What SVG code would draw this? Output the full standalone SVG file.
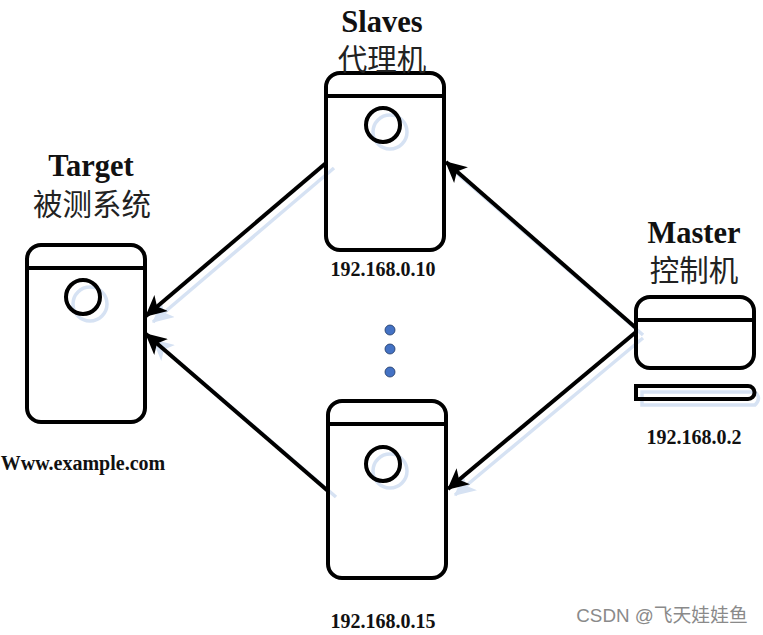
<svg xmlns="http://www.w3.org/2000/svg" width="763" height="635" viewBox="0 0 763 635">
<style>
.b{fill:none;stroke:#000;stroke-width:4}
.s{fill:none;stroke:#d6e2f3;stroke-width:3.5}
.c{fill:none;stroke:#000;stroke-width:4}
.t{font-family:"Liberation Serif","Noto Sans CJK SC",serif;font-weight:700;fill:#111;text-anchor:middle}
.h{font-size:30.5px}
.l{font-size:20px}
.z{font-family:"Noto Sans CJK SC","Liberation Serif",serif;font-size:29.5px;font-weight:400;fill:#222;text-anchor:middle}
.d{fill:#4472c4;stroke:#203864;stroke-width:.8}
</style>
<defs>
<marker id="a" viewBox="0 0 10 10" refX="9.5" refY="5" markerUnits="userSpaceOnUse" markerWidth="21" markerHeight="21" orient="auto"><path d="M0 0L10 5L0 10L2.6 5Z" fill="#000"/></marker>
<marker id="as" viewBox="0 0 10 10" refX="9.5" refY="5" markerUnits="userSpaceOnUse" markerWidth="21" markerHeight="21" orient="auto"><path d="M0 0L10 5L0 10L2.6 5Z" fill="#d6e2f3"/></marker>
</defs>
<rect width="763" height="635" fill="#fff"/>
<g id="shadows">
<line class="s" x1="334" y1="168" x2="153" y2="322" marker-end="url(#as)"/>
<line class="s" x1="643" y1="335" x2="453" y2="170"/>
<line class="s" x1="643" y1="338" x2="455" y2="495" marker-end="url(#as)"/>
<line class="s" x1="336" y1="497" x2="153" y2="340" marker-end="url(#as)"/>
<circle class="s" cx="390" cy="132" r="17"/>
<circle class="s" cx="90" cy="304" r="17"/>
<circle class="s" cx="390" cy="471" r="17"/>
<path class="s" d="M642 392H755Q762 398 755 405H642Z"/>
</g>
<g id="connectors">
<line class="c" x1="326" y1="163" x2="146" y2="316" marker-end="url(#a)"/>
<line class="c" x1="636" y1="328" x2="446" y2="162" marker-end="url(#a)"/>
<line class="c" x1="636" y1="332" x2="448" y2="489" marker-end="url(#a)"/>
<line class="c" x1="328" y1="491" x2="146" y2="334" marker-end="url(#a)"/>
</g>
<g id="target">
<rect class="b" x="27" y="245" width="118" height="177" rx="14"/>
<line class="b" x1="27" y1="268" x2="145" y2="268"/>
<circle class="b" cx="83" cy="297" r="17"/>
<text class="t h" x="91" y="176">Target</text>
<text class="z" x="92" y="215">被测系统</text>
<text class="t l" x="83" y="470">Www.example.com</text>
</g>
<g id="slave1">
<rect class="b" x="326" y="73" width="118" height="177" rx="14"/>
<line class="b" x1="326" y1="96" x2="444" y2="96"/>
<circle class="b" cx="383" cy="125" r="17"/>
<text class="t h" x="382" y="32">Slaves</text>
<text class="z" x="382" y="70">代理机</text>
<text class="t l" x="383" y="276">192.168.0.10</text>
</g>
<g id="dots">
<circle class="d" cx="390" cy="330" r="5"/>
<circle class="d" cx="390" cy="349" r="5"/>
<circle class="d" cx="390" cy="372" r="5"/>
</g>
<g id="slave2">
<rect class="b" x="328" y="401" width="118" height="177" rx="14"/>
<line class="b" x1="328" y1="424" x2="446" y2="424"/>
<circle class="b" cx="383" cy="464" r="17"/>
<text class="t l" x="383" y="628">192.168.0.15</text>
</g>
<g id="master">
<rect class="b" x="636" y="297" width="118" height="71" rx="14"/>
<line class="b" x1="636" y1="320" x2="754" y2="320"/>
<path class="b" d="M636 386H748A6.500 6.500 0 0 1 748 399H636Z"/>
<text class="t h" x="694" y="243">Master</text>
<text class="z" x="694" y="281">控制机</text>
<text class="t l" x="694" y="444">192.168.0.2</text>
</g>
<text id="watermark" x="662" y="622" text-anchor="middle" font-family="'Liberation Sans','Noto Sans CJK SC',sans-serif" font-size="18.800" fill="#8a8a8a">CSDN @飞天娃娃鱼</text>
</svg>
